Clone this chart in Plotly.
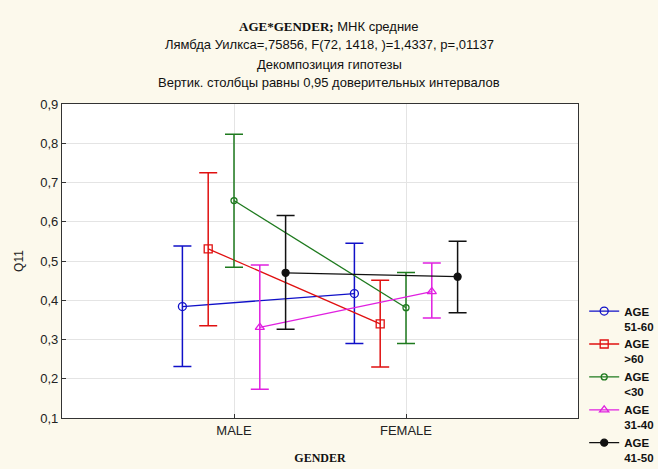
import plotly.graph_objects as go

genders = ["MALE", "FEMALE"]
groups = ["AGE<br>51-60", "AGE<br>>60", "AGE<br><30", "AGE<br>31-40", "AGE<br>41-50"]
means = [
    [0.384, 0.417],
    [0.531, 0.340],
    [0.654, 0.381],
    [0.331, 0.422],
    [0.470, 0.460],
]
upper = [
    [0.538, 0.545],
    [0.725, 0.451],
    [0.823, 0.471],
    [0.490, 0.495],
    [0.616, 0.550],
]
lower = [
    [0.231, 0.290],
    [0.335, 0.230],
    [0.484, 0.290],
    [0.173, 0.355],
    [0.326, 0.368],
]
y_ticks = [0.1, 0.2, 0.3, 0.4, 0.5, 0.6, 0.7, 0.8, 0.9]

colors = ["#1010C8", "#E01010", "#1E7A1E", "#E020E0", "#111111"]
symbols = ["circle-open", "square-open", "circle-open", "triangle-up-open", "circle"]
msizes = [8, 8, 6, 8, 7]
offsets = [-0.30, -0.15, 0.0, 0.15, 0.30]

fig = go.Figure()
for i, name in enumerate(groups):
    xs = [j + offsets[i] for j in range(len(genders))]
    fig.add_trace(go.Scatter(
        x=xs, y=means[i], name="<b>" + name.replace("<br>", "</b><br><b>") + "</b>",
        mode="lines+markers",
        line=dict(color=colors[i], width=1.3),
        marker=dict(symbol=symbols[i], size=msizes[i], color=colors[i],
                    line=dict(color=colors[i], width=1.3)),
        error_y=dict(type="data", symmetric=False,
                     array=[u - m for u, m in zip(upper[i], means[i])],
                     arrayminus=[m - l for m, l in zip(means[i], lower[i])],
                     color=colors[i], thickness=1.5, width=9),
    ))

BG = "#FCF9EC"
fig.update_layout(
    width=658, height=469,
    paper_bgcolor=BG, plot_bgcolor="white",
    margin=dict(l=62, r=80, t=104, b=51, autoexpand=False),
    separators=", ",
    font=dict(family="Liberation Sans, Arial", size=12, color="#222222"),
    showlegend=True,
    legend=dict(x=1.012, y=0.385, xanchor="left", yanchor="top",
                bgcolor="rgba(0,0,0,0)", valign="top",
                font=dict(family="Liberation Sans, Arial", size=11.5, color="#111111"),
                tracegroupgap=0, itemwidth=30),
    xaxis=dict(range=[-1, 2], tickvals=[0, 1], ticktext=genders,
               showgrid=True, gridcolor="#E4E4E4", zeroline=False, automargin=False,
               ticks="inside", ticklen=4, tickcolor="#333333",
               showline=True, linecolor="#333333", linewidth=1.2, mirror=True,
               tickfont=dict(size=13, color="#222222"),
               title=dict(text="<b>GENDER</b>",
                          font=dict(family="Liberation Serif, Times New Roman", size=12, color="#111111"),
                          standoff=16)),
    yaxis=dict(range=[0.1, 0.9], tickvals=y_ticks, tickformat=".1f",
               showgrid=True, gridcolor="#E4E4E4", zeroline=False, automargin=False,
               ticks="inside", ticklen=4, tickcolor="#333333",
               showline=True, linecolor="#333333", linewidth=1.2, mirror=True,
               tickfont=dict(size=13, color="#222222"),
               title=dict(text="Q11", font=dict(size=12, color="#222222"), standoff=14)),
)

title_lines = [
    "<span style='font-family:Liberation Serif, Times New Roman'><b>AGE*GENDER;</b></span> МНК средние",
    "Лямбда Уилкса=,75856, F(72, 1418, )=1,4337, p=,01137",
    "Декомпозиция гипотезы",
    "Вертик. столбцы равны 0,95 доверительных интервалов",
]
title_y_px = [27, 45, 64, 83]
for txt, ypx in zip(title_lines, title_y_px):
    fig.add_annotation(text=txt, xref="paper", yref="paper",
                       x=(329 - 62) / 516, y=(418 - ypx) / 314,
                       xanchor="center", yanchor="middle", showarrow=False,
                       font=dict(size=13, color="#111111"))

fig.write_html("out.html", config={"displayModeBar": False},
               post_script="document.body.style.margin='0';document.body.style.overflow='hidden';")
